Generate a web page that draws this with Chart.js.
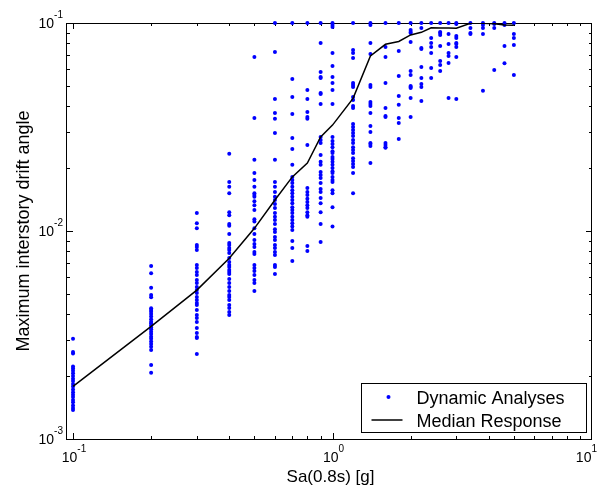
<!DOCTYPE html>
<html>
<head>
<meta charset="utf-8">
<script src="https://cdn.jsdelivr.net/npm/chart.js@4.4.0/dist/chart.umd.min.js"></script>
<style>
  html, body { margin: 0; padding: 0; background: #fff; }
  #wrap { width: 598px; height: 489px; }
</style>
</head>
<body>
<div id="wrap"><canvas id="idaChart" width="598" height="489"></canvas></div>
<script>
// Sa(0.8s) levels [g] of the dynamic analyses
const saLevels = [0.1, 0.2, 0.3, 0.4, 0.5, 0.6, 0.7, 0.8, 0.9, 1.0, 1.2, 1.4, 1.6, 1.8,
                  2.0, 2.2, 2.4, 2.6, 2.8, 3.0, 3.4, 3.8, 4.2, 4.6, 5.0];

// maximum interstory drift angle per record, one array per Sa level
const drift010 = [0.00303, 0.00262, 0.00258, 0.00223, 0.00218, 0.00213, 0.00207, 0.00201, 0.00195, 0.00190,
                  0.00184, 0.00179, 0.00173, 0.00168, 0.00163, 0.00159, 0.00154, 0.00150, 0.00145, 0.00141, 0.00138];
const drift020 = [0.00679, 0.00626, 0.00534, 0.00493, 0.00480, 0.00425, 0.00417, 0.00409, 0.00399, 0.00388,
                  0.00376, 0.00366, 0.00360, 0.00352, 0.00344, 0.00337, 0.00328, 0.00320, 0.00310, 0.00303,
                  0.00294, 0.00286, 0.00278, 0.00268, 0.00227, 0.00208];
const drift030 = [0.0122, 0.0109, 0.0103, 0.00856, 0.00838, 0.00811, 0.00686, 0.00664, 0.00635, 0.00615,
                  0.00581, 0.00562, 0.00538, 0.00520, 0.00503, 0.00482, 0.00466, 0.00451, 0.00441, 0.00417,
                  0.00395, 0.00382, 0.00365, 0.00342, 0.00323, 0.00309, 0.00306, 0.00256];
const drift040 = [0.0235, 0.0172, 0.0163, 0.0152, 0.0123, 0.0119, 0.0108, 0.0106, 0.00967, 0.00876,
                  0.00856, 0.00829, 0.00811, 0.00784, 0.00742, 0.00710, 0.00686, 0.00671, 0.00649, 0.00635,
                  0.00621, 0.00588, 0.00562, 0.00538, 0.00515, 0.00492, 0.00482, 0.00466, 0.00441, 0.00426,
                  0.00408, 0.00395];
const drift050 = [0.0686, 0.0349, 0.0220, 0.0190, 0.0176, 0.0163, 0.0152, 0.0149, 0.0146, 0.0139,
                  0.0133, 0.0126, 0.0114, 0.0111, 0.0103, 0.00967, 0.00905, 0.00866, 0.00838, 0.00793,
                  0.00775, 0.00686, 0.00664, 0.00642, 0.00615, 0.00581, 0.00562, 0.00515];
const drift060 = [0.1, 0.0726, 0.0431, 0.0369, 0.0346, 0.0296, 0.0220, 0.0172, 0.0163, 0.0154,
                  0.0146, 0.0141, 0.0135, 0.0129, 0.0122, 0.0117, 0.0113, 0.0108, 0.0102, 0.00989,
                  0.00936, 0.00905, 0.00856, 0.00829, 0.00793, 0.00767, 0.00686, 0.00671, 0.00621];
const drift070 = [0.1, 0.0538, 0.0441, 0.0365, 0.0280, 0.0248, 0.0208, 0.0182, 0.0176, 0.0170,
                  0.0163, 0.0157, 0.0152, 0.0146, 0.0141, 0.0136, 0.0130, 0.0126, 0.0122, 0.0117,
                  0.0113, 0.0109, 0.0105, 0.0101, 0.00895, 0.00829, 0.00718];
const drift080 = [0.1, 0.0476, 0.0431, 0.0373, 0.0353, 0.0346, 0.0259, 0.0161, 0.0154, 0.0149,
                  0.0143, 0.0138, 0.0133, 0.0129, 0.0123, 0.0119, 0.0117, 0.00847, 0.00801];
const drift090 = [0.1, 0.0801, 0.0581, 0.0550, 0.0544, 0.0461, 0.0456, 0.0408, 0.0283, 0.0274,
                  0.0265, 0.0232, 0.0215, 0.0208, 0.0192, 0.0186, 0.0180, 0.0170, 0.0159, 0.0154,
                  0.0144, 0.0136, 0.0123, 0.0108, 0.00885];
const drift100 = [0.1, 0.0978, 0.0957, 0.0718, 0.0621, 0.0550, 0.0515, 0.0476, 0.0408, 0.0283,
                  0.0271, 0.0262, 0.0253, 0.0242, 0.0237, 0.0227, 0.0222, 0.0215, 0.0208, 0.0201,
                  0.0194, 0.0190, 0.0182, 0.0176, 0.0172, 0.0157, 0.0152, 0.0130, 0.0105];
const drift120 = [0.1, 0.0742, 0.0718, 0.0679, 0.0515, 0.0504, 0.0493, 0.0441, 0.0426, 0.0399,
                  0.0390, 0.0327, 0.0316, 0.0306, 0.0296, 0.0286, 0.0274, 0.0265, 0.0253, 0.0245,
                  0.0237, 0.0224, 0.0217, 0.0210, 0.0203, 0.0190, 0.0152];
const drift140 = [0.1, 0.0978, 0.0801, 0.0710, 0.0504, 0.0493, 0.0417, 0.0408, 0.0399, 0.0369,
                  0.0320, 0.0299, 0.0265, 0.0262, 0.0256, 0.0212];
const drift160 = [0.1, 0.0767, 0.0686, 0.0515, 0.0390, 0.0357, 0.0353, 0.0265, 0.0259, 0.0253, 0.0251];
const drift180 = [0.1, 0.0734, 0.0556, 0.0446, 0.0404, 0.0349, 0.0331, 0.0277];
const drift200 = [0.1, 0.0925, 0.0905, 0.0895, 0.0810, 0.0588, 0.0562, 0.0498, 0.0493, 0.0487, 0.0436, 0.0353];
const drift220 = [0.1, 0.0946, 0.0758, 0.0750, 0.0615, 0.0544, 0.0509, 0.0493, 0.0422];
const drift240 = [0.1, 0.0847, 0.0801, 0.0767, 0.0718, 0.0608, 0.0544];
const drift260 = [0.1, 0.0905, 0.0895, 0.0876, 0.0775, 0.0657, 0.0628, 0.0588];
const drift280 = [0.1, 0.0885, 0.0793, 0.0718, 0.0694, 0.0643, 0.0436];
const drift300 = [0.1, 0.0989, 0.0866, 0.0847, 0.0801, 0.0793, 0.0767, 0.0686, 0.0431];
const drift340 = [0.1, 0.0946, 0.0895, 0.0885];
const drift380 = [0.1, 0.0978, 0.0946, 0.0885, 0.0472];
const drift420 = [0.1, 0.0989, 0.0946, 0.0594];
const drift460 = [0.1, 0.0978, 0.0775, 0.0640];
const drift500 = [0.1, 0.0885, 0.0847, 0.0784, 0.0562];

const driftColumns = [drift010, drift020, drift030, drift040, drift050, drift060, drift070, drift080,
                      drift090, drift100, drift120, drift140, drift160, drift180, drift200, drift220,
                      drift240, drift260, drift280, drift300, drift340, drift380, drift420, drift460, drift500];

// median response curve
const medianSa    = saLevels;
const medianDrift = [0.00179, 0.00348, 0.0052, 0.0074, 0.0103, 0.0141, 0.0182, 0.0212, 0.0283, 0.0323,
                     0.0434, 0.0694, 0.079, 0.0815, 0.0876, 0.0902, 0.0949, 0.0945, 0.0945, 0.0943,
                     0.0997, 0.0997, 0.0993, 0.0978, 0.0976];

// axis ticks (decades + minor)
const xMajorTicks = [0.1, 1, 10];
const yMajorTicks = [0.001, 0.01, 0.1];
const xTickExp = ['-1', '0', '1'];
const yTickExp = ['-3', '-2', '-1'];

const FONT = '"Liberation Sans", Arial, Helvetica, sans-serif';

function minorTicks(decades) {
    const out = [];
    decades.forEach(d => { for (let k = 2; k <= 9; k++) out.push(d * k); });
    return out;
}

// scatter points
const scatterPoints = [];
saLevels.forEach((sa, i) => {
    driftColumns[i].forEach(v => scatterPoints.push({ x: sa, y: v }));
});
const medianPoints = medianSa.map((sa, i) => ({ x: sa, y: medianDrift[i] }));

// draws "10" with a superscript exponent
function drawPow(ctx, x, y, exp, align, maxRight) {
    ctx.font = '14px ' + FONT;
    const wBase = ctx.measureText('10').width;
    ctx.font = '10px ' + FONT;
    const wExp = ctx.measureText(exp).width;
    let x0 = align === 'right' ? x - wBase - wExp : x - (wBase + wExp) / 2;
    if (maxRight && x0 + wBase + wExp > maxRight) x0 = maxRight - wBase - wExp;
    ctx.textAlign = 'left';
    ctx.textBaseline = 'alphabetic';
    ctx.font = '14px ' + FONT;
    ctx.fillText('10', x0, y + 5);
    ctx.font = '10px ' + FONT;
    ctx.fillText(exp, x0 + wBase, y - 5);
}

// frame, inward ticks, tick labels and axis titles (matlab style)
const axesFrame = {
    id: 'axesFrame',
    beforeDatasetsDraw(chart) {
        const { ctx, chartArea: a, scales: { x, y } } = chart;
        ctx.save();
        ctx.strokeStyle = '#000';
        ctx.lineWidth = 1;
        ctx.strokeRect(a.left - 0.5, a.top + 0.5, a.right - a.left, a.bottom - a.top);

        ctx.beginPath();
        const xTicks = xMajorTicks.map(v => [v, 6]).concat(minorTicks([0.1, 1]).map(v => [v, 3]));
        xTicks.forEach(([v, len]) => {
            const px = Math.round(x.getPixelForValue(v)) + 0.5;
            if (px < a.left || px > a.right) return;
            ctx.moveTo(px, a.bottom); ctx.lineTo(px, a.bottom - len);
            ctx.moveTo(px, a.top); ctx.lineTo(px, a.top + len);
        });
        const yTicks = yMajorTicks.map(v => [v, 6]).concat(minorTicks([0.001, 0.01]).map(v => [v, 3]));
        yTicks.forEach(([v, len]) => {
            const py = Math.round(y.getPixelForValue(v)) + 0.5;
            ctx.moveTo(a.left, py); ctx.lineTo(a.left + len, py);
            ctx.moveTo(a.right, py); ctx.lineTo(a.right - len, py);
        });
        ctx.stroke();

        ctx.fillStyle = '#000';
        xMajorTicks.forEach((v, i) => drawPow(ctx, x.getPixelForValue(v) + 1, 457, xTickExp[i], 'center', chart.width - 1));
        yMajorTicks.forEach((v, i) => drawPow(ctx, a.left - 4, y.getPixelForValue(v), yTickExp[i], 'right'));

        ctx.font = '17px ' + FONT;
        ctx.textAlign = 'center';
        ctx.textBaseline = 'alphabetic';
        ctx.fillText('Sa(0.8s) [g]', (a.left + a.right) / 2 + 1, 482);
        ctx.translate(29, (a.top + a.bottom) / 2);
        ctx.rotate(-Math.PI / 2);
        ctx.font = '18px ' + FONT;
        ctx.fillText('Maximum interstory drift angle', 0, 0);
        ctx.restore();
    }
};

// boxed legend in the lower right corner
const boxLegend = {
    id: 'boxLegend',
    afterDraw(chart) {
        const { ctx, chartArea: a } = chart;
        const ds = chart.data.datasets;
        const bx = a.right - 230.5, by = a.bottom - 55.5, bw = 225, bh = 49;
        ctx.save();
        ctx.fillStyle = '#fff';
        ctx.fillRect(bx, by, bw, bh);
        ctx.strokeStyle = '#000';
        ctx.lineWidth = 1;
        ctx.strokeRect(bx, by, bw, bh);

        ctx.fillStyle = ds[1].backgroundColor;
        ctx.beginPath();
        ctx.arc(bx + 27, by + 13.5, 2, 0, Math.PI * 2);
        ctx.fill();

        ctx.strokeStyle = ds[0].borderColor;
        ctx.lineWidth = ds[0].borderWidth;
        ctx.beginPath();
        ctx.moveTo(bx + 10, by + 36.5);
        ctx.lineTo(bx + 41, by + 36.5);
        ctx.stroke();

        ctx.fillStyle = '#000';
        ctx.font = '18px ' + FONT;
        ctx.textAlign = 'left';
        ctx.textBaseline = 'alphabetic';
        ctx.fillText(ds[1].label, bx + 55, by + 20.5);
        ctx.fillText(ds[0].label, bx + 55, by + 43.5);
        ctx.restore();
    }
};

const chart = new Chart(document.getElementById('idaChart'), {
    type: 'scatter',
    data: {
        datasets: [
            {
                label: 'Median Response',
                type: 'line',
                data: medianPoints,
                borderColor: '#000',
                borderWidth: 1.5,
                pointRadius: 0,
                tension: 0,
                fill: false,
                order: 1
            },
            {
                label: 'Dynamic Analyses',
                data: scatterPoints,
                backgroundColor: '#0000ff',
                borderWidth: 0,
                pointRadius: 2,
                clip: false,
                order: 2
            }
        ]
    },
    options: {
        responsive: false,
        animation: false,
        events: [],
        layout: { padding: { left: 67, top: 23, right: 6, bottom: 50 } },
        scales: {
            x: { type: 'logarithmic', min: 0.0948, max: 10, display: false },
            y: { type: 'logarithmic', min: 0.001, max: 0.1, display: false }
        },
        plugins: {
            legend: { display: false },
            tooltip: { enabled: false }
        }
    },
    plugins: [axesFrame, boxLegend]
});
</script>
</body>
</html>
